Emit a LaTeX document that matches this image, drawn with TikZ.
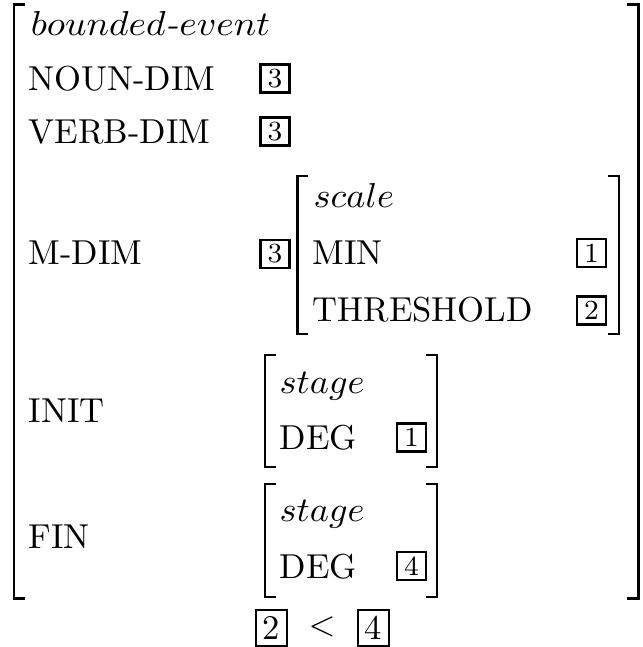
\documentclass[tikz,border=0pt]{standalone}
\usepackage{amssymb, amsmath}

\begin{document}
\begin{tikzpicture}[x=0.289pt,y=-0.289pt,inner sep=0pt]
  \tikzstyle{feat}=[anchor=base west]
  \tikzstyle{type}=[anchor=base west,transform shape,xscale=1.05]
  \tikzstyle{tag}=[draw,line width=0.7pt,minimum width=8.3pt,minimum height=8pt,font=\footnotesize]
  \tikzstyle{bigtag}=[draw,line width=0.7pt,minimum width=9pt,minimum height=10.4pt]
  \tikzstyle{brak}=[line width=0.85pt]

  \useasboundingbox (0,0) rectangle (643,647);

  % outer matrix
  \draw[brak] (25,4.5) -| (14,598.5) -- (25,598.5);
  \draw[brak] (627,4.5) -| (638.5,598.5) -- (627,598.5);

  \node[type,xscale=1.035] (bev) at (30,35) {$bounded$\textit{-}$event$};
  \node[feat] (ndim)  at (28,90)  {NOUN-DIM};
  \node[feat] (vdim)  at (28,143) {VERB-DIM};
  \node[feat] (mdim)  at (28,264) {M-DIM};
  \node[feat] (init)  at (28,422) {INIT};
  \node[feat] (fin)   at (28,548) {FIN};

  \node[tag] (t3a) at (275,78.5)  {3};
  \node[tag] (t3b) at (275,131.5) {3};
  \node[tag] (t3c) at (275,254)   {3};

  % scale
  \draw[brak] (308.5,176) -| (297.5,334) -- (308.5,334);
  \draw[brak] (608,176) -| (619,334) -- (608,334);
  \node[type] (scale) at (313,207)   {$scale$};
  \node[feat] (min)   at (312,264)   {MIN};
  \node[feat] (thr)   at (312,321.5) {THRESHOLD};
  \node[tag]  (t1a)   at (591.5,253)   {1};
  \node[tag]  (t2a)   at (591.5,310.5) {2};

  % initial stage
  \draw[brak] (276,355) -| (265,467) -- (276,467);
  \draw[brak] (426,355) -| (437,467) -- (426,467);
  \node[type] (stg1) at (279,393)   {$stage$};
  \node[feat] (deg1) at (279,449.5) {DEG};
  \node[tag]  (t1b)  at (411.5,437.5) {1};

  % final stage
  \draw[brak] (276,484) -| (265,597) -- (276,597);
  \draw[brak] (426,484) -| (437,597) -- (426,597);
  \node[type] (stg2) at (279,521)   {$stage$};
  \node[feat] (deg2) at (279,578.5) {DEG};
  \node[tag]  (t4a)  at (411.5,566) {4};

  % constraint
  \node[bigtag] (b2) at (271.5,628) {2};
  \node         (lt) at (322,627)   {$<$};
  \node[bigtag] (b4) at (373.5,628) {4};
\end{tikzpicture}
\end{document}
